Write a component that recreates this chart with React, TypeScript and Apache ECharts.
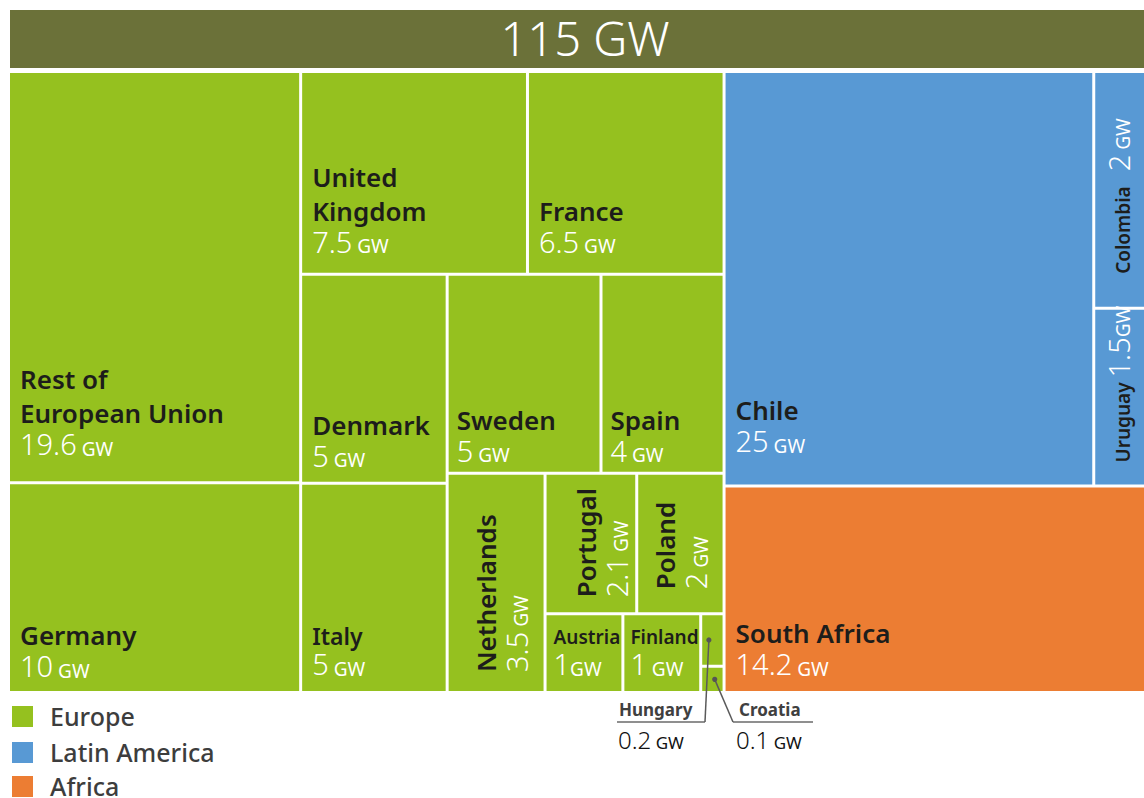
import React, { useEffect, useRef } from 'react';
import * as echarts from 'echarts';

const FONT = "'Noto Sans', 'Open Sans', 'DejaVu Sans', sans-serif";

// ---------- data ----------
const europeNames = [
  'Rest of European Union', 'Germany', 'United Kingdom', 'France', 'Denmark', 'Italy',
  'Sweden', 'Spain', 'Netherlands', 'Portugal', 'Poland', 'Austria', 'Finland', 'Hungary', 'Croatia',
];
const europeValues = [19.6, 10, 7.5, 6.5, 5, 5, 5, 4, 3.5, 2.1, 2, 1, 1, 0.2, 0.1];
const latinNames = ['Chile', 'Colombia', 'Uruguay'];
const latinValues = [25, 2, 1.5];
const africaNames = ['South Africa'];
const africaValues = [14.2];
const regionNames = ['Europe', 'Latin America', 'Africa'];
const regionColors = ['#95C11F', '#5899D4', '#EC7D33'];
const totalLabel = '115 GW';
const unit = 'GW';
const calloutNames = ['Hungary', 'Croatia'];

// ---------- label styling (not data) ----------
const displayLines: Record<string, string[]> = {
  'Rest of European Union': ['Rest of', 'European Union'],
  'United Kingdom': ['United', 'Kingdom'],
};
const LABELS: Record<string, any> = {
  'Rest of European Union': { x: 10, d: 119 },
  Germany: { x: 10, d: 73 },
  'United Kingdom': { x: 10, d: 113 },
  France: { x: 10, d: 79 },
  Denmark: { x: 10, d: 74 },
  Italy: { x: 10, d: 69, nk: 'ns' },
  Sweden: { x: 8, d: 69 },
  Spain: { x: 8, d: 69 },
  Netherlands: { x: 20, d: 19, rot: true },
  Portugal: { x: 22, d: 15, rot: true },
  Poland: { x: 10, d: 23, rot: true },
  Austria: { x: 7, d: 68, nk: 'nx', tight: true },
  Finland: { x: 6, d: 68, nk: 'nx' },
  Chile: { x: 10, d: 91 },
  Colombia: { x: '50%', ox: -15, d: 33, rot: true, single: true, nk: 'nr', vk: 'vr' },
  Uruguay: { x: '50%', ox: -15, d: 22, rot: true, single: true, nk: 'nr', tight: true },
  'South Africa': { x: 10, d: 75 },
};

const RICH = {
  n: { fontFamily: FONT, fontSize: 26, fontWeight: 600, color: '#1d1d1b', lineHeight: 34 },
  ns: { fontFamily: FONT, fontSize: 23, fontWeight: 600, color: '#1d1d1b', lineHeight: 28 },
  nx: { fontFamily: FONT, fontSize: 19, fontWeight: 600, color: '#1d1d1b', lineHeight: 27 },
  nr: { fontFamily: FONT, fontSize: 19, fontWeight: 600, color: '#1d1d1b', lineHeight: 28, verticalAlign: 'bottom' },
  v: { fontFamily: FONT, fontSize: 29, fontWeight: 300, color: '#ffffff', lineHeight: 28, verticalAlign: 'bottom' },
  vr: { fontFamily: FONT, fontSize: 29, fontWeight: 300, color: '#ffffff', lineHeight: 28, verticalAlign: 'bottom', padding: [0, 0, 0, 10] },
  u: { fontFamily: FONT, fontSize: 19, fontWeight: 400, color: '#ffffff', lineHeight: 28, verticalAlign: 'bottom' },
};

function leaf(name: string, value: number, color: string) {
  const item: any = {
    name,
    value,
    itemStyle: { color, borderColor: '#ffffff', borderWidth: 1.5 },
  };
  const L = LABELS[name];
  if (!L) {
    item.label = { show: false };
    return item;
  }
  const nk = L.nk || 'n';
  const vk = L.vk || 'v';
  const valueStr = `{${vk}|${value}}{u|${L.tight ? '' : ' '}${unit}}`;
  let fmt: string;
  if (L.single) {
    fmt = `{${nk}|${name} }${valueStr}`;
  } else {
    const lines = displayLines[name] || [name];
    fmt = [...lines.map((l) => `{${nk}|${l}}`), valueStr].join('\n');
  }
  item.label = L.rot
    ? { show: true, position: [L.x, '100%'], offset: [L.d, L.ox || 0], rotate: 90, formatter: fmt }
    : { show: true, position: [L.x, '100%'], offset: [0, -L.d], formatter: fmt };
  return item;
}

const groupStyle = { borderWidth: 0, gapWidth: 0, borderColor: '#ffffff' };

function buildData() {
  const eu = europeNames.map((n, i) => leaf(n, europeValues[i], regionColors[0]));
  const la = latinNames.map((n, i) => leaf(n, latinValues[i], regionColors[1]));
  const af = africaNames.map((n, i) => leaf(n, africaValues[i], regionColors[2]));
  const europe = {
    name: regionNames[0],
    itemStyle: groupStyle,
    children: [
      ...eu.slice(0, 8),
      {
        name: 'Europe (smaller)',
        itemStyle: groupStyle,
        children: [eu[8], { name: 'Europe (smallest)', itemStyle: groupStyle, children: eu.slice(9) }],
      },
    ],
  };
  const others = {
    name: 'Other regions',
    itemStyle: groupStyle,
    children: [{ name: regionNames[1], itemStyle: groupStyle, children: la }, ...af],
  };
  return [europe, others];
}

function staticGraphics() {
  const els: any[] = [
    { id: 'hdr', type: 'rect', z: 50, shape: { x: 10, y: 10, width: 1134, height: 58 }, style: { fill: '#6B7139' } },
    {
      id: 'hdrText', type: 'text', z: 51, x: 585, y: 38,
      style: {
        text: totalLabel, fill: '#ffffff', fontSize: 47, fontWeight: 300, fontFamily: FONT,
        textAlign: 'center', textVerticalAlign: 'middle', align: 'center', verticalAlign: 'middle',
      },
    },
  ];
  const ys = [716, 752, 786];
  regionNames.forEach((r, i) => {
    els.push({ id: 'lgR' + i, type: 'rect', z: 50, shape: { x: 12, y: ys[i] - 10, width: 21, height: 21 }, style: { fill: regionColors[i] } });
    els.push({
      id: 'lgT' + i, type: 'text', z: 50, x: 50, y: ys[i],
      style: {
        text: r, fill: '#3d3d3d', fontSize: 25, fontWeight: 500, fontFamily: FONT,
        textAlign: 'left', textVerticalAlign: 'middle', align: 'left', verticalAlign: 'middle',
      },
    });
  });
  return els;
}

function leafRect(chart: any, name: string) {
  try {
    const sm = chart.getModel().getSeriesByIndex(0);
    const data = sm.getData();
    const tree = data.tree;
    let target: any = null;
    tree.root.eachNode((n: any) => { if (n.name === name) target = n; });
    if (!target) return null;
    const lay = target.getLayout();
    let x = sm.layoutInfo.x;
    let y = sm.layoutInfo.y;
    let n = target;
    while (n) {
      const l = n.getLayout();
      if (l) { x += l.x || 0; y += l.y || 0; }
      n = n.parentNode;
    }
    return { x, y, w: lay.width, h: lay.height };
  } catch (e) {
    return null;
  }
}

function calloutGraphics(chart: any) {
  const els: any[] = [];
  const specs = [
    { textX: 619, valX: 618, lineFrom: 617, lineTo: 705, anchorX: 705, fx: 0.35 },
    { textX: 739, valX: 736, lineFrom: 733, lineTo: 813, anchorX: 733, fx: 0.6 },
  ];
  const fallback = [
    { x: 696, y: 613, w: 28, h: 54 },
    { x: 696, y: 667, w: 28, h: 27 },
  ];
  calloutNames.forEach((name, i) => {
    const s = specs[i];
    const r = leafRect(chart, name) || fallback[i];
    const idx = europeNames.indexOf(name);
    const val = europeValues[idx];
    const dx = r.x + r.w * s.fx;
    const dy = r.y + r.h / 2;
    els.push({ id: 'coU' + i, type: 'line', z: 100, shape: { x1: s.lineFrom, y1: 722, x2: s.lineTo, y2: 722 }, style: { stroke: '#6a6a6a', lineWidth: 1.5 } });
    els.push({ id: 'coL' + i, type: 'line', z: 100, shape: { x1: s.anchorX, y1: 722, x2: dx, y2: dy }, style: { stroke: '#5a5a5a', lineWidth: 1.5 } });
    els.push({ id: 'coD' + i, type: 'circle', z: 101, shape: { cx: dx, cy: dy, r: 2.6 }, style: { fill: '#555555' } });
    els.push({
      id: 'coN' + i, type: 'text', z: 100, x: s.textX, y: 709,
      style: {
        text: name, fill: '#404040', fontSize: 17, fontWeight: 700, fontFamily: FONT,
        textAlign: 'left', textVerticalAlign: 'middle', align: 'left', verticalAlign: 'middle',
      },
    });
    els.push({
      id: 'coV' + i, type: 'text', z: 100, x: s.valX, y: 721,
      style: {
        text: `{a|${val}}{b| ${unit}}`,
        textAlign: 'left', textVerticalAlign: 'top', align: 'left', verticalAlign: 'top',
        rich: {
          a: { fontFamily: FONT, fontSize: 24, fontWeight: 300, fill: '#111111', color: '#111111', lineHeight: 30, verticalAlign: 'bottom' },
          b: { fontFamily: FONT, fontSize: 17, fontWeight: 400, fill: '#111111', color: '#111111', lineHeight: 30, verticalAlign: 'bottom' },
        },
      },
    });
  });
  return els;
}

function buildOption() {
  return {
    animation: false,
    backgroundColor: '#ffffff',
    graphic: { elements: staticGraphics() },
    series: [
      {
        type: 'treemap',
        left: 8.5,
        top: 71.5,
        width: 1137,
        height: 621,
        squareRatio: 1,
        sort: false,
        roam: false,
        nodeClick: false,
        drillDownIcon: '',
        visibleMin: 0,
        breadcrumb: { show: false },
        itemStyle: { borderWidth: 0, gapWidth: 0, borderColor: '#ffffff' },
        upperLabel: { show: false },
        label: {
          show: true,
          padding: 0,
          overflow: 'none',
          align: 'left',
          verticalAlign: 'top',
          fontFamily: FONT,
          fontSize: 19,
          color: '#1d1d1b',
          rich: RICH,
        },
        emphasis: { disabled: true },
        data: buildData(),
      },
    ],
  };
}

export default function App() {
  const ref = useRef<HTMLDivElement>(null);
  useEffect(() => {
    const chart = echarts.init(ref.current as HTMLDivElement, undefined, { renderer: 'svg' });
    chart.setOption(buildOption() as any);
    chart.setOption({ graphic: { elements: [...staticGraphics(), ...calloutGraphics(chart)] } } as any);
    return () => chart.dispose();
  }, []);
  return (
    <div
      ref={ref}
      style={{ position: 'absolute', left: 0, top: 0, width: 1144, height: 798, background: '#ffffff' }}
    />
  );
}
